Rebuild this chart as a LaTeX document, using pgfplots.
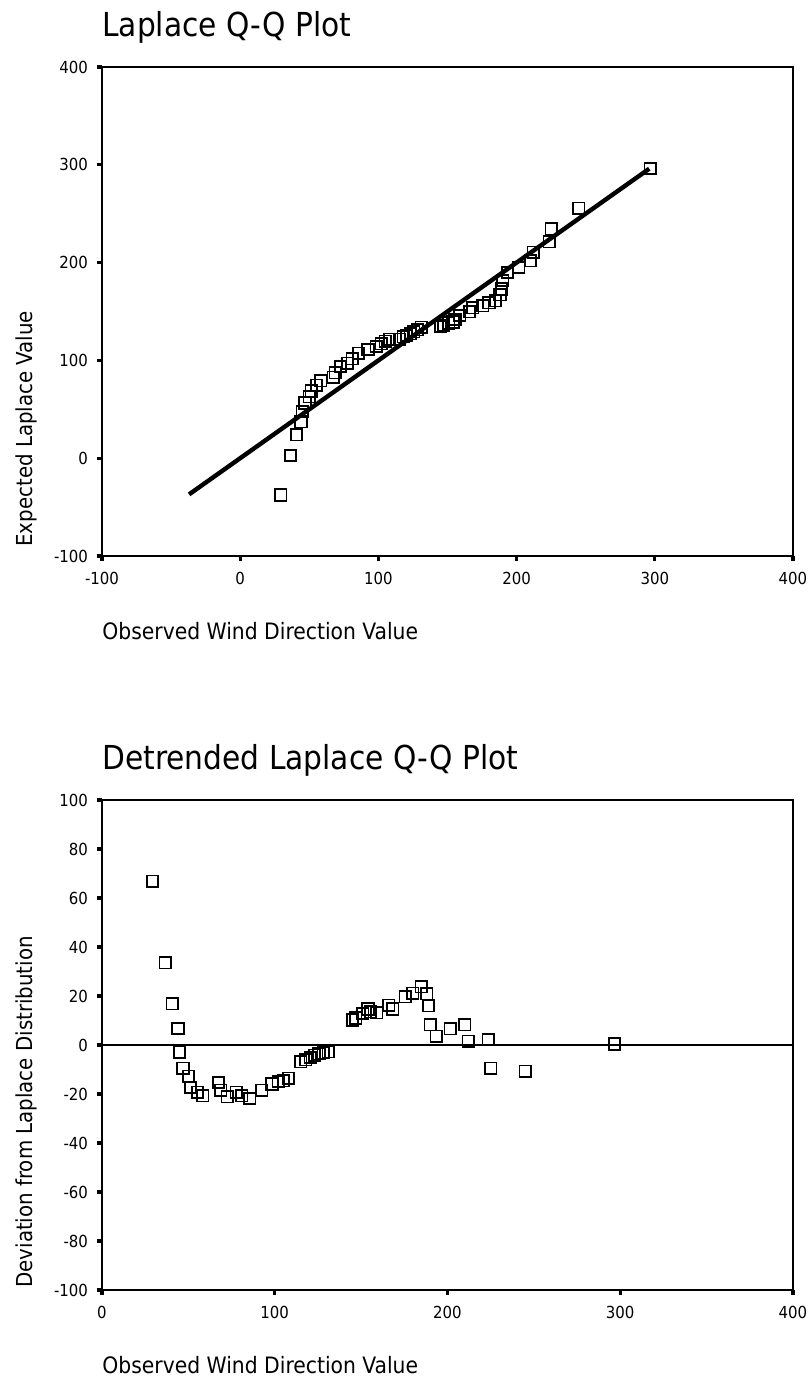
\documentclass[border=0pt]{standalone}
\usepackage{pgfplots}
\pgfplotsset{compat=1.18}
\usepackage{fontspec}
\setmainfont{DejaVu Sans Condensed}

\pgfdeclareplotmark{rsquare}{%
  \pgfsetcornersarced{\pgfpoint{1.4pt}{1.4pt}}%
  \pgfpathmoveto{\pgfqpoint{-\pgfplotmarksize}{0pt}}%
  \pgfpathlineto{\pgfqpoint{-\pgfplotmarksize}{\pgfplotmarksize}}%
  \pgfpathlineto{\pgfqpoint{\pgfplotmarksize}{\pgfplotmarksize}}%
  \pgfpathlineto{\pgfqpoint{\pgfplotmarksize}{-\pgfplotmarksize}}%
  \pgfpathlineto{\pgfqpoint{-\pgfplotmarksize}{-\pgfplotmarksize}}%
  \pgfpathclose
  \pgfusepathqstroke
}

\pgfplotsset{
  qq/.style={
    scale only axis,
    width=345.5pt, height=245pt,
    tick pos=left, tick align=outside,
    major tick length=2.5pt,
    every tick/.style={black, line width=1.6pt},
    axis line style={line width=1pt},
    ticklabel style={font=\fontsize{8.3}{10}\selectfont},
    /pgf/number format/assume math mode=true,
    xticklabel style={yshift=-2pt},
    yticklabel style={xshift=-1pt},
  },
  qqmark/.style={only marks, mark=rsquare, mark size=2.85pt,
    mark options={line width=0.85pt, draw=black, fill=none}},
}

\begin{document}
\begin{tikzpicture}
\useasboundingbox (0,0) rectangle (405.5pt,689pt);

% ---------- Top: Laplace Q-Q plot ----------
\begin{axis}[qq, name=top, at={(51pt,411pt)}, anchor=south west,
  height=244.5pt,
  xmin=-100, xmax=400, ymin=-100, ymax=400,
  xtick={-100,0,100,200,300,400}, ytick={-100,0,100,200,300,400}]
\addplot[black, line width=2.2pt] coordinates {(-37,-37) (296,296)};
\addplot[qqmark] coordinates {
(29.3,-37.6) (36.5,2.9) (40.7,23.9) (44.0,37.3) (44.8,47.7) (46.9,56.4)
(50.0,62.7) (51.3,68.7) (55.2,74.5) (58.3,79.0) (67.4,82.7) (68.7,87.2)
(72.5,93.7) (77.7,97.0) (81.0,101.7) (85.5,107.3) (92.5,111.0) (98.4,114.3)
(102.0,116.9) (105.0,119.6) (108.0,121.6) (115.0,121.8) (118.0,124.1)
(120.5,125.6) (123.0,127.2) (125.6,129.2) (128.0,131.2) (131.0,133.8)
(145.0,134.8) (147.0,136.0) (151.0,138.2) (154.0,139.3) (155.4,141.8)
(159.0,145.9) (166.0,149.8) (168.4,153.7) (175.6,155.9) (180.0,158.8)
(184.7,160.9) (188.0,167.1) (189.0,173.0) (190.0,181.8) (193.5,189.9)
(201.5,194.9) (210.0,201.8) (212.0,210.5) (223.6,221.4) (225.0,234.5)
(245.0,255.7) (296.6,296.2)
};
\end{axis}

% ---------- Bottom: detrended ----------
\begin{axis}[qq, name=bot, at={(51pt,44pt)}, anchor=south west,
  xmin=0, xmax=400, ymin=-100, ymax=100,
  xtick={0,100,200,300,400}, ytick={-100,-80,...,100}]
\addplot[black, line width=0.8pt] coordinates {(0,0) (400,0)};
\addplot[qqmark] coordinates {
(29.3,66.9) (36.5,33.6) (40.7,16.8) (44.0,6.7) (44.8,-2.9) (46.9,-9.5)
(50.0,-12.7) (51.3,-17.4) (55.2,-19.3) (58.3,-20.7) (67.4,-15.3) (68.7,-18.5)
(72.5,-21.2) (77.7,-19.3) (81.0,-20.7) (85.5,-21.8) (92.5,-18.5) (98.4,-15.9)
(102.0,-14.9) (105.0,-14.6) (108.0,-13.6) (115.0,-6.8) (118.0,-6.1)
(120.5,-5.1) (123.0,-4.2) (125.6,-3.6) (128.0,-3.2) (131.0,-2.8)
(145.0,10.2) (147.0,11.0) (151.0,12.8) (154.0,14.7) (155.4,13.6)
(159.0,13.1) (166.0,16.2) (168.4,14.7) (175.6,19.7) (180.0,21.2)
(184.7,23.8) (188.0,20.9) (189.0,16.0) (190.0,8.2) (193.5,3.6)
(201.5,6.6) (210.0,8.2) (212.0,1.5) (223.6,2.2) (225.0,-9.5)
(245.0,-10.7) (296.6,0.4)
};
\end{axis}

% ---------- Titles and labels ----------
\node[anchor=base west, inner sep=0pt, font=\fontsize{16.5}{20}\selectfont]
  at ([yshift=15pt]top.north west) {Laplace Q-Q Plot};
\node[anchor=base west, inner sep=0pt, font=\fontsize{16.5}{20}\selectfont]
  at ([yshift=15.5pt]bot.north west) {Detrended Laplace Q-Q Plot};

\node[anchor=base west, inner sep=0pt, font=\fontsize{11.3}{13}\selectfont]
  at ([yshift=-42pt]top.south west) {Observed Wind Direction Value};
\node[anchor=base west, inner sep=0pt, font=\fontsize{11.3}{13}\selectfont]
  at ([yshift=-42pt]bot.south west) {Observed Wind Direction Value};

\node[rotate=90, anchor=base west, inner sep=0pt, font=\fontsize{11}{13}\selectfont]
  at ([xshift=-35pt, yshift=4.5pt]top.south west) {Expected Laplace Value};
\node[rotate=90, anchor=base west, inner sep=0pt, font=\fontsize{11}{13}\selectfont]
  at ([xshift=-35pt, yshift=1pt]bot.south west) {Deviation from Laplace Distribution};
\end{tikzpicture}
\end{document}
